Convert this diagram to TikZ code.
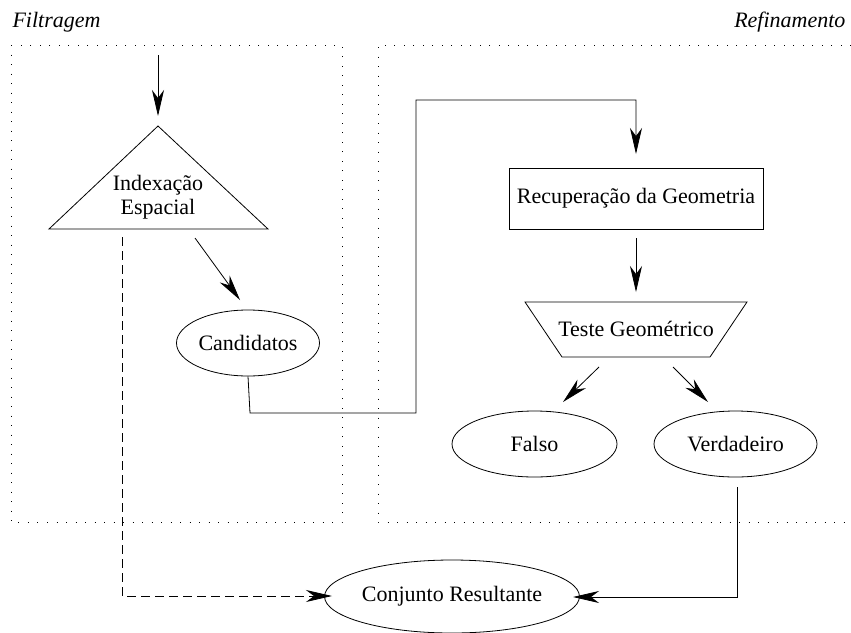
\documentclass[tikz,border=0pt]{standalone}
\usepackage{fontspec}
\setmainfont{Liberation Serif}
\newfontfamily\labelfont{Liberation Serif}
\usetikzlibrary{arrows.meta,shapes.geometric}
\begin{document}
\begin{tikzpicture}[x=1pt,y=-1pt,
  every node/.style={font=\labelfont\fontsize{22}{25}\selectfont},
  flow/.style={line width=0.8pt,-{Stealth[length=26pt,width=12pt,inset=8pt]}},
  region/.style={line width=0.9pt,dash pattern=on 0.9pt off 8.6pt},
  oval/.style={draw,ellipse,line width=0.8pt,inner sep=0pt},
  title/.style={font=\labelfont\fontsize{22}{25}\selectfont\itshape,anchor=base}]
  \useasboundingbox (0,0) rectangle (851,632);

  % stage regions
  \draw[region] (11,45) rectangle (342,522);
  \draw[region] (851,45) -- (378,45) -- (378,522) -- (851,522);
  \node[title,anchor=base west] (filt) at (9,27) {Filtragem};
  \node[title,anchor=base east] (refi) at (849,27) {Refinamento};

  % filtering stage
  \coordinate (tA) at (158,126);
  \coordinate (tL) at (49,229);
  \coordinate (tR) at (268,229);
  \draw[line width=0.8pt] (tA) -- (tL) -- (tR) -- cycle;
  \node[align=center,font=\labelfont\fontsize{22}{24}\selectfont] (idx) at (158,197) {Indexação\\Espacial};
  \coordinate (in) at (158,55);
  \coordinate (inEnd) at (158,116);
  \draw[flow] (in) -- (inEnd);

  \node[oval,minimum width=143pt,minimum height=66pt] (cand) at (248,343) {Candidatos};
  \coordinate (c1) at (195,238);
  \coordinate (c2) at (240,300);
  \draw[flow] (c1) -- (c2);

  % refinement stage
  \node[draw,line width=0.8pt,minimum width=254pt,minimum height=61pt,inner sep=0pt] (rec) at (636,198.5) {Recuperação da Geometria};
  \draw[flow] (cand.south) -- (250,413) -- (416,413) -- (416,100) -- (636,100) -- (636,154);

  \coordinate (t1) at (525,302);
  \coordinate (t2) at (747,302);
  \coordinate (t3) at (710,357);
  \coordinate (t4) at (562,357);
  \draw[line width=0.8pt] (t1) -- (t2) -- (t3) -- (t4) -- cycle;
  \node (teste) at (636,329) {Teste Geométrico};
  \coordinate (r1) at (636,238);
  \coordinate (r2) at (636,292);
  \draw[flow] (r1) -- (r2);

  \node[oval,minimum width=165pt,minimum height=66pt] (falso) at (534.5,444) {Falso};
  \node[oval,minimum width=163pt,minimum height=66pt] (verd) at (735.5,444) {Verdadeiro};
  \coordinate (f1) at (599,367);
  \coordinate (f2) at (563,402);
  \coordinate (v1) at (673,367);
  \coordinate (v2) at (708,402);
  \draw[flow] (f1) -- (f2);
  \draw[flow] (v1) -- (v2);

  % result
  \node[oval,minimum width=220pt,minimum height=73pt] (conj) at (452,596.5) {Conjunto Resultante};
  \coordinate (vOut) at (737,487);
  \draw[flow] (vOut) -- (737,597) -- (573,597);
  \coordinate (dOut) at (122,237);
  \draw[flow,dash pattern=on 9pt off 5pt] (dOut) -- (122,596) -- (332,596);
\end{tikzpicture}
\end{document}
